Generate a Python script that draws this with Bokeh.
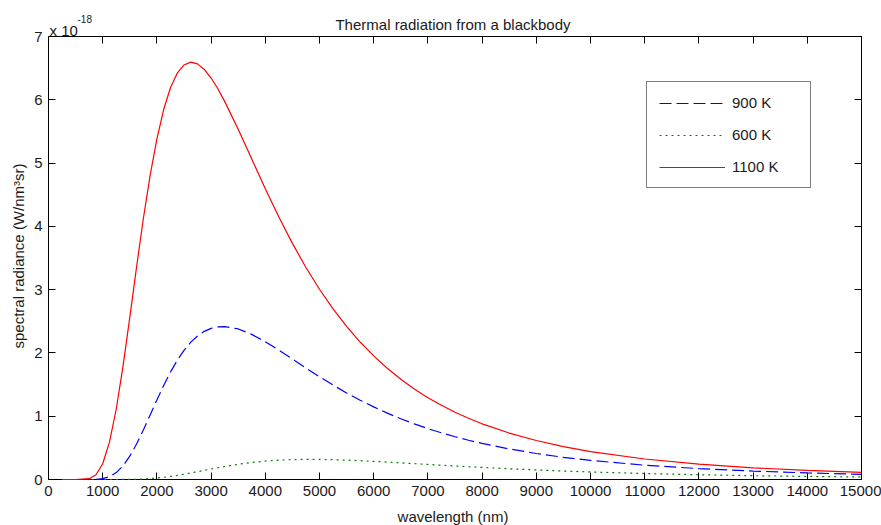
import math
from bokeh.plotting import figure
from bokeh.models import (Range1d, LinearAxis, FixedTicker, Label, Legend, LegendItem)
from bokeh.embed import file_html
from bokeh.resources import INLINE

# wavelength (nm)
wavelength = [250, 500, 750, 875, 1000, 1125, 1250, 1375, 1500, 1625, 1750, 1875, 2000,
              2125, 2250, 2375, 2500, 2625, 2750, 2875, 3000, 3125, 3250, 3500, 3750,
              4000, 4250, 4500, 4750, 5000, 5250, 5500, 5750, 6000, 6250, 6500, 6750,
              7000, 7250, 7500, 7750, 8000, 8500, 9000, 9500, 10000, 11000, 12000,
              13000, 14000, 15000]
# spectral radiance, in units of 1e-18 W/(nm^3 sr)
rad_900 = [0, 0, 0.0003, 0.0027, 0.0136, 0.0445, 0.109, 0.216, 0.369, 0.561, 0.783, 1.019,
           1.257, 1.486, 1.697, 1.883, 2.040, 2.170, 2.268, 2.341, 2.388, 2.413, 2.417,
           2.379, 2.293, 2.176, 2.044, 1.904, 1.762, 1.624, 1.492, 1.368, 1.253, 1.147,
           1.049, 0.959, 0.878, 0.804, 0.737, 0.676, 0.620, 0.570, 0.483, 0.411, 0.351,
           0.302, 0.226, 0.172, 0.133, 0.104, 0.082]
rad_600 = [0, 0, 0, 0, 0, 0, 0.0002, 0.0007, 0.0018, 0.0041, 0.0082, 0.0143, 0.0231,
           0.0345, 0.0486, 0.0649, 0.0833, 0.1031, 0.1237, 0.1447, 0.1656, 0.1858, 0.2054,
           0.2402, 0.2687, 0.2905, 0.3055, 0.3146, 0.3182, 0.3176, 0.3133, 0.3063, 0.2973,
           0.2868, 0.2752, 0.2632, 0.2506, 0.2383, 0.2259, 0.2138, 0.2022, 0.1909, 0.1699,
           0.151, 0.1341, 0.1191, 0.0943, 0.0751, 0.0602, 0.0487, 0.0397]
rad_1100 = [0, 0, 0.013, 0.075, 0.249, 0.590, 1.114, 1.791, 2.562, 3.358, 4.124, 4.805,
            5.383, 5.846, 6.190, 6.420, 6.550, 6.595, 6.567, 6.479, 6.344, 6.174, 5.975,
            5.536, 5.063, 4.595, 4.148, 3.731, 3.350, 3.006, 2.696, 2.420, 2.172, 1.953,
            1.757, 1.584, 1.430, 1.293, 1.172, 1.063, 0.967, 0.880, 0.734, 0.616, 0.520,
            0.441, 0.324, 0.242, 0.185, 0.143, 0.113]

x_ticks = list(range(0, 15001, 1000))
y_ticks = [0, 1, 2, 3, 4, 5, 6, 7]

FONT = "Liberation Sans"
FS = "15px"
TXT = "#1a1a1a"

p = figure(frame_width=813, frame_height=443, output_backend="svg", toolbar_location=None,
           x_range=Range1d(0, 15000), y_range=Range1d(0, 7),
           min_border_left=48, min_border_right=20, min_border_top=36, min_border_bottom=46)
p.xgrid.visible = False
p.ygrid.visible = False
p.outline_line_color = "black"
p.outline_line_width = 1
p.background_fill_color = "white"
p.border_fill_color = "white"

def style_axis(ax, ticks, show_labels):
    ax.ticker = FixedTicker(ticks=ticks)
    ax.major_tick_in = 7
    ax.major_tick_out = 0
    ax.minor_tick_in = 0
    ax.minor_tick_out = 0
    ax.major_tick_line_color = "black"
    ax.axis_line_color = "black"
    ax.major_label_text_font = FONT
    ax.major_label_text_color = TXT
    if show_labels:
        ax.major_label_text_font_size = FS
        ax.major_label_standoff = 6
    else:
        ax.major_label_text_font_size = "0px"
        ax.major_label_standoff = 0
        ax.major_label_overrides = {t: "" for t in ticks}

style_axis(p.xaxis[0], x_ticks, True)
style_axis(p.yaxis[0], y_ticks, True)
top = LinearAxis()
right = LinearAxis()
style_axis(top, x_ticks, False)
style_axis(right, y_ticks, False)
p.add_layout(top, "above")
p.add_layout(right, "right")

g = p.line(wavelength, rad_600, line_color="#008000", line_width=1.2, line_dash="2 4", level="overlay")
b = p.line(wavelength, rad_900, line_color="#0000ff", line_width=1.2, line_dash="12 5", level="overlay")
r = p.line(wavelength, rad_1100, line_color="#ff0000", line_width=1.2, level="overlay")

legend = Legend(items=[LegendItem(label="900 K", renderers=[b]),
                       LegendItem(label="600 K", renderers=[g]),
                       LegendItem(label="1100 K", renderers=[r])],
                location=(598, 291), padding=12, spacing=15, margin=0,
                glyph_width=66, glyph_height=16, label_height=16, label_width=66,
                label_standoff=7, border_line_color="black", border_line_width=1,
                background_fill_color="white", background_fill_alpha=1,
                label_text_font=FONT, label_text_font_size=FS, label_text_color=TXT)
p.add_layout(legend)

# texts outside the frame live in the side panels (so they are not clipped)
p.add_layout(Label(x=7500, y=7, x_offset=-2, y_offset=12, text="Thermal radiation from a blackbody",
                   text_align="center", text_baseline="alphabetic",
                   text_font=FONT, text_font_size=FS, text_color=TXT), "above")
p.add_layout(Label(x=0, y=7, x_offset=1, y_offset=6, text="x 10",
                   text_align="left", text_baseline="alphabetic",
                   text_font=FONT, text_font_size=FS, text_color=TXT), "above")
p.add_layout(Label(x=0, y=7, x_offset=29, y_offset=18, text="-18",
                   text_align="left", text_baseline="alphabetic",
                   text_font=FONT, text_font_size="10px", text_color=TXT), "right")
p.add_layout(Label(x=7500, y=0, x_offset=-2, y_offset=-37, text="wavelength (nm)",
                   text_align="center", text_baseline="alphabetic",
                   text_font=FONT, text_font_size=FS, text_color=TXT), "below")
p.add_layout(Label(x=0, y=3.5, x_offset=-30, y_offset=2, angle=math.pi / 2,
                   text="spectral radiance (W/nm\u00b3sr)",
                   text_align="center", text_baseline="middle",
                   text_font=FONT, text_font_size=FS, text_color=TXT), "left")

open("out.html", "w").write(file_html(p, INLINE))
